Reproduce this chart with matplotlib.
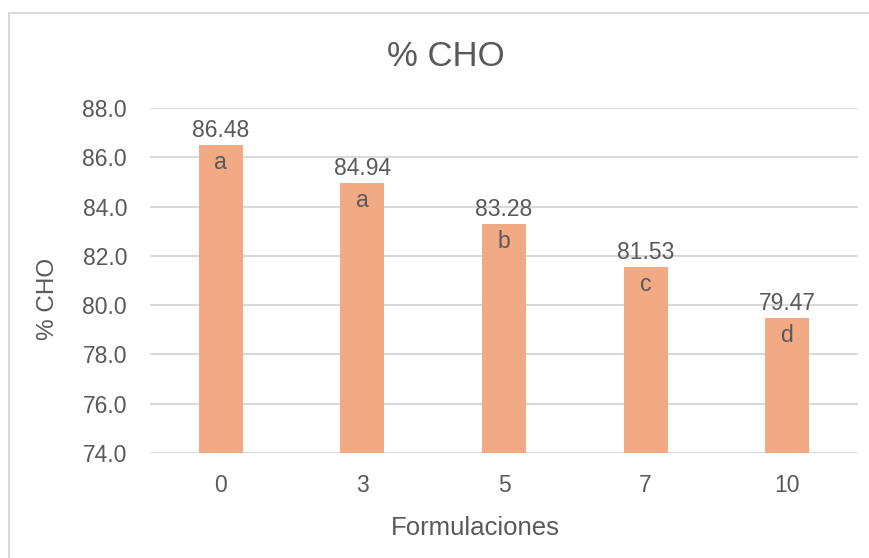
import matplotlib
matplotlib.use("Agg")
import matplotlib.pyplot as plt
from matplotlib.patches import Rectangle

categories = ["0", "3", "5", "7", "10"]
values = [86.48, 84.94, 83.28, 81.53, 79.47]
groups = ["a", "a", "b", "c", "d"]
y_ticks = [74.0, 76.0, 78.0, 80.0, 82.0, 84.0, 86.0, 88.0]

W, H = 870, 558
plt.rcParams["font.family"] = ["Liberation Sans", "DejaVu Sans"]
text_color = "#595959"
bar_color = "#F2AA84"
grid_color = "#D9D9D9"

fig = plt.figure(figsize=(W / 100, H / 100), dpi=100)
fig.patch.set_facecolor("white")

# outer chart frame
fig.patches.append(Rectangle((9 / W, -0.05), 1.2, 1 - 13 / H + 0.05,
                             transform=fig.transFigure, fill=False,
                             edgecolor=grid_color, linewidth=1.5))

ax = fig.add_axes([150 / W, 1 - 453 / H, (858 - 150) / W, (453 - 108) / H])
x = list(range(len(categories)))
bars = ax.bar(x, [v - y_ticks[0] for v in values], bottom=y_ticks[0],
              width=0.31, color=bar_color, zorder=3)

ax.set_xlim(-0.5, len(categories) - 0.5)
ax.set_ylim(y_ticks[0], y_ticks[-1])
ax.set_yticks(y_ticks)
ax.set_yticklabels([f"{t:.1f}" for t in y_ticks])
ax.set_xticks(x)
ax.set_xticklabels(categories)
ax.tick_params(axis="both", length=0, labelsize=16.5, colors=text_color)
ax.tick_params(axis="y", pad=16.5)
ax.tick_params(axis="x", pad=15)
ax.grid(axis="y", color=grid_color, linewidth=1.5, zorder=0)
for s in ax.spines.values():
    s.set_visible(False)

for xi, v, g in zip(x, values, groups):
    ax.annotate(f"{v:.2f}", (xi, v), xytext=(0, 2.5), textcoords="offset points",
                ha="center", va="bottom", fontsize=16.5, color=text_color)
    ax.annotate(g, (xi, v), xytext=(0, -4), textcoords="offset points",
                ha="center", va="top", fontsize=16.5, color=text_color, zorder=4)

fig.text(446 / W, 1 - 57 / H, "% CHO", ha="center", va="center",
         fontsize=25, color=text_color)
fig.text(475 / W, 1 - 528 / H, "Formulaciones", ha="center", va="center",
         fontsize=18.5, color=text_color)
fig.text(48 / W, 1 - 299 / H, "% CHO", ha="center", va="center",
         rotation=90, fontsize=17.5, color=text_color)

fig.savefig("out.png", dpi=100, facecolor="white")
